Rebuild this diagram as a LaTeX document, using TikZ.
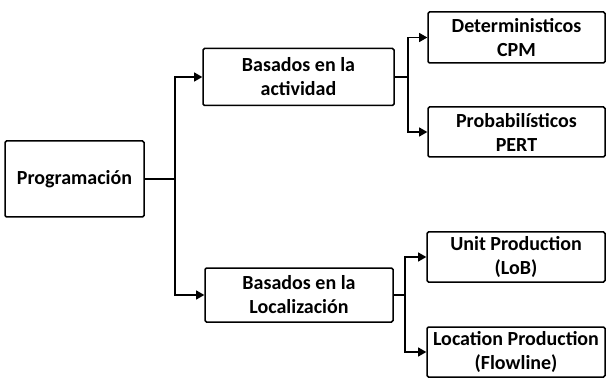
\documentclass[tikz,border=0pt]{standalone}
\usepackage{fontspec}
\setmainfont{Carlito}
\usetikzlibrary{arrows}
\usetikzlibrary{shapes}

\begin{document}
\begin{tikzpicture}[x=1pt, y=-1pt,
        box/.style = {draw, line width=1.5pt, rounded corners=1.5pt, align=center,
            inner sep=0pt, font=\bfseries\fontsize{20}{24}\selectfont},
        link/.style = {line width=1.2pt}]
        \useasboundingbox (0, 0) rectangle (607, 379);

        \node [box, minimum width=139, minimum height=76] (prog) at (74.5, 179) {Programaci\'on};

        \node [box, minimum width=191, minimum height=57] (act) at (298.5, 77) {Basados en la\\actividad};
        \node [box, minimum width=188, minimum height=54] (loc) at (299, 295) {Basados en la\\Localizaci\'on};

        \node [box, minimum width=177, minimum height=51] (cpm) at (516.5, 37.5) {Deterministicos\\CPM};
        \node [box, minimum width=177, minimum height=50] (pert) at (516.5, 132) {Probabil\'isticos\\PERT};
        \node [box, minimum width=178, minimum height=50] (lob) at (516, 257) {Unit Production\\(LoB)};
        \node [box, minimum width=178, minimum height=50] (flow) at (516, 352) {Location Production\\(Flowline)};

        \coordinate (s1) at (175, 179);
        \coordinate (s2) at (408, 77);
        \coordinate (s3) at (405, 295);

        \draw [link] (prog.east) -- (s1);
        \draw [link, -triangle 60] (s1) |- (act.west);
        \draw [link, -triangle 60] (s1) |- (loc.west);

        \draw [link] (act.east) -- (s2);
        \draw [link, -triangle 60] (s2) |- (cpm.west);
        \draw [link, -triangle 60] (s2) |- (pert.west);

        \draw [link] (loc.east) -- (s3);
        \draw [link, -triangle 60] (s3) |- (lob.west);
        \draw [link, -triangle 60] (s3) |- (flow.west);
    \end{tikzpicture}
\end{document}
